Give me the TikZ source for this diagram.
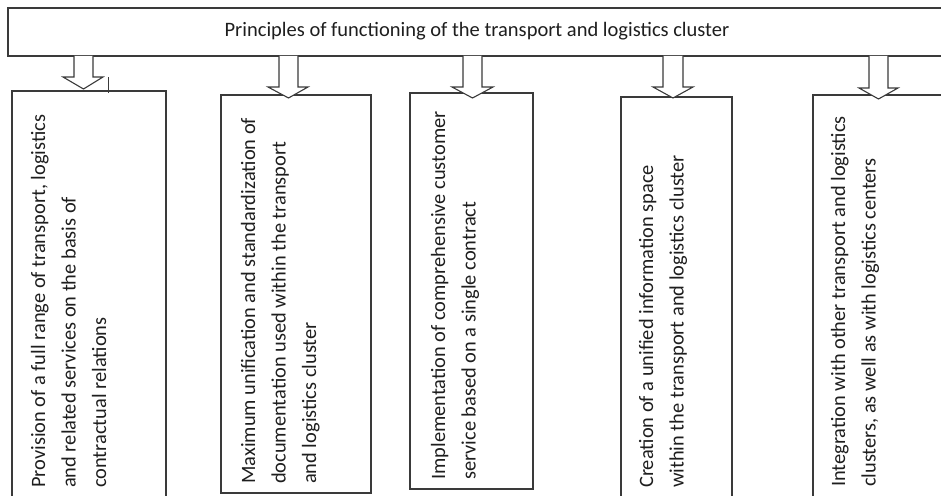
\documentclass[tikz,border=0pt]{standalone}
\usepackage{fontspec}
\setmainfont{Carlito}
\definecolor{linec}{HTML}{3A3A3A}
\definecolor{textc}{HTML}{1E1E1E}
\tikzset{
  boxline/.style={draw=linec, line width=1.1pt},
  blockarrow/.style={draw=linec, line width=1.1pt, fill=white, line join=miter},
  vtext/.style={rotate=90, anchor=base west, inner sep=0pt, text=textc},
  titletext/.style={inner sep=0pt, text=textc, font=\fontsize{20.5}{24}\selectfont}
}
\newcommand{\vlines}[1]{{\fontsize{20.4}{30.5}\selectfont\begin{tabular}[t]{@{}l@{}}#1\end{tabular}}}
% shaft left x, shaft right x, head left x, head right x, shaft top y, head start y, tip y
\newcommand{\barrow}[7]{%
  \draw[blockarrow] (#1,#5) -- (#1,#6) -- (#3,#6) -- ({(#1+#2)/2},#7) -- (#4,#6) -- (#2,#6) -- (#2,#5);}
\begin{document}
\begin{tikzpicture}[x=1pt,y=-1pt]
\useasboundingbox (0,0) rectangle (941,495);
% title box
\draw[boxline] (8,8) rectangle (950,56);
\node[titletext] (title) at (477,31) {Principles of functioning of the transport and logistics cluster};
% lower boxes
\draw[boxline] (12,500) -- (12,91) -- (166,91) -- (166,500);
\draw[boxline] (221,95) rectangle (371,493);
\draw[boxline] (410,93) rectangle (533,489);
\draw[boxline] (621,500) -- (621,97) -- (732,97) -- (732,500);
\draw[boxline] (813,500) -- (813,95) -- (950,95);
% arrows
\barrow{74}{93}{63}{103}{56}{77}{89}
\barrow{279}{298}{268}{308}{56}{87}{98}
\barrow{463}{482}{452}{493}{56}{87}{98}
\barrow{663}{683}{653}{693}{56}{87}{98}
\barrow{869}{888}{859}{898}{56}{88}{99}
% stray tick
\draw[draw=linec, line width=0.6pt] (108,77) -- (108,93);
% texts
\node[vtext] (t1) at (45,488) {\vlines{Provision of a full range of transport, logistics\\and related services on the basis of\\contractual relations}};
\node[vtext] (t2) at (255,484) {\vlines{Maximum unification and standardization of\\documentation used within the transport\\and logistics cluster}};
\node[vtext] (t3) at (445,480) {\vlines{Implementation of comprehensive customer\\service based on a single contract}};
\node[vtext] (t4) at (653,488) {\vlines{Creation of a unified information space\\within the transport and logistics cluster}};
\node[vtext] (t5) at (845,487) {\vlines{Integration with other transport and logistics\\clusters, as well as with logistics centers}};
\end{tikzpicture}
\end{document}
